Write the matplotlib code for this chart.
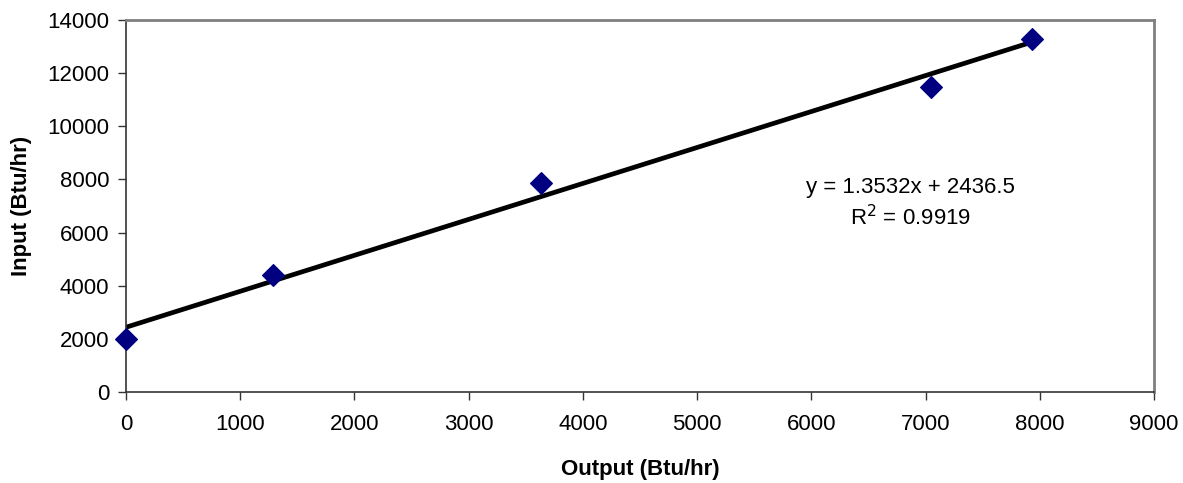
import matplotlib
matplotlib.use("Agg")
import matplotlib.pyplot as plt
import numpy as np

plt.rcParams['font.family'] = ['Liberation Sans', 'DejaVu Sans']

output_btu = [0, 1283, 3637, 7052, 7933]
input_btu = [2000, 4403, 7880, 11490, 13280]
slope = 1.3532
intercept = 2436.5
r2 = 0.9919
x_ticks = list(range(0, 9001, 1000))
y_ticks = list(range(0, 14001, 2000))

fig = plt.figure(figsize=(11.83, 4.83), dpi=100)
ax = fig.add_axes([126/1183, 91/483, (1154-126)/1183, (392-20)/483])

xs = np.array([min(output_btu), max(output_btu)])
ax.plot(xs, slope*xs + intercept, color='black', lw=3.4, zorder=2, solid_capstyle='butt')
ax.plot(output_btu, input_btu, linestyle='none', marker='D', markersize=11,
        color='#000080', markeredgecolor='#000080', markeredgewidth=0.8, zorder=3, clip_on=False)

ax.set_xlim(0, 9000)
ax.set_ylim(0, 14000)
ax.set_xticks(x_ticks)
ax.set_yticks(y_ticks)
ax.tick_params(labelsize=16, length=6, width=1, color='#333333', direction='out')
ax.tick_params(axis='x', pad=10)
ax.tick_params(axis='y', pad=6)
for s in ['top', 'right']:
    ax.spines[s].set_color('#808080')
    ax.spines[s].set_linewidth(2)
for s in ['left', 'bottom']:
    ax.spines[s].set_color('#333333')
    ax.spines[s].set_linewidth(1.2)

ax.set_xlabel('Output (Btu/hr)', fontsize=16, fontweight='bold', labelpad=17)
ax.set_ylabel('Input (Btu/hr)', fontsize=16, fontweight='bold', labelpad=11)

ax.text(6869, 7489, f'y = {slope}x + {intercept}', fontsize=16, ha='center', va='baseline')
ax.text(6869, 6285, f'R$^2$ = {r2}', fontsize=16, ha='center', va='baseline')

fig.savefig('out.png', dpi=100)
